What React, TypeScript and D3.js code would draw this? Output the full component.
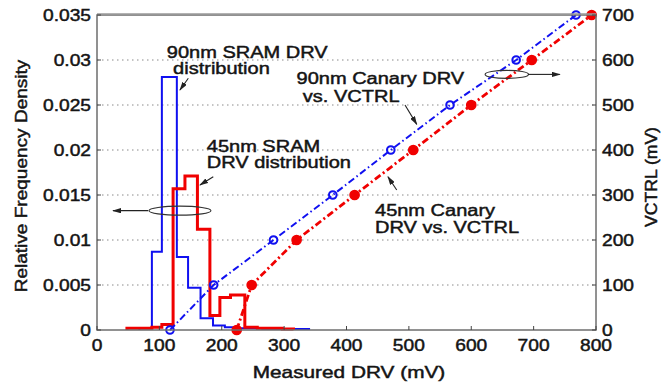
import React from 'react';
import * as d3 from 'd3';

// histogram of measured DRV (relative frequency density), bin edges in mV
const edges90 = [68, 88, 104, 128, 146, 166, 186, 205, 225, 245, 265, 285, 305, 325, 340];
const density90 = [0.0002, 0.0087, 0.0281, 0.0081, 0.0047, 0.0013, 0.0005, 0.0003, 0.0002, 0.0002, 0.0001, 0.0001, 0.0001, 0.0001];

const edges45 = [48, 68, 88, 104, 122, 141, 161, 181, 197, 214, 237, 257, 277, 297, 315];
const density45 = [0.0002, 0.0002, 0.0003, 0.0006, 0.0157, 0.0171, 0.0112, 0.0016, 0.0036, 0.0039, 0.0003, 0.0002, 0.0002, 0.0001];

// canary DRV vs VCTRL
const vctrl = [0, 100, 200, 300, 400, 500, 600, 700];
const canary90 = [117, 187, 283, 378, 471, 566, 672, 768];
const canary45 = [224, 248, 320, 413, 507, 600, 697, 793];

const xTicks = [0, 100, 200, 300, 400, 500, 600, 700, 800];
const leftTicks = [0, 0.005, 0.01, 0.015, 0.02, 0.025, 0.03, 0.035];
const leftLabels = ['0', '0.005', '0.01', '0.015', '0.02', '0.025', '0.03', '0.035'];
const rightTicks = [0, 100, 200, 300, 400, 500, 600, 700];

const W = 662, H = 385;
const left = 97, right = 596, top = 15, bottom = 330;

const BLUE = '#1010f0';
const RED = '#f00000';
const FONT = '"Liberation Sans", Arial, sans-serif';

const T = ({ x, y, children, anchor = 'start', rot = 0, sx = 1.25, size = 16 }: any) => (
  <text
    transform={`translate(${x},${y}) rotate(${rot}) scale(${sx},1)`}
    textAnchor={anchor}
    fontSize={size}
    fontFamily={FONT}
    fill="#141414"
    stroke="#141414"
    strokeWidth={0.45}
  >
    {children}
  </text>
);

export default function App() {
  const x = d3.scaleLinear().domain([0, 800]).range([left, right]);
  const yL = d3.scaleLinear().domain([0, 0.035]).range([bottom, top]);
  const yR = d3.scaleLinear().domain([0, 700]).range([bottom, top]);

  // step outline for a histogram
  const stepPath = (edges: number[], vals: number[]) => {
    const pts: [number, number][] = [[edges[0], 0]];
    vals.forEach((v, i) => pts.push([edges[i], v]));
    pts.push([edges[edges.length - 1], vals[vals.length - 1]]);
    pts.push([edges[edges.length - 1], 0]);
    return d3.line<[number, number]>()
      .x(d => x(d[0]))
      .y(d => yL(d[1]))
      .curve(d3.curveStepAfter)(pts) as string;
  };

  const canaryLine = (xs: number[]) =>
    d3.line<number>()
      .x(d => x(d))
      .y((_, i) => yR(vctrl[i]))(xs) as string;

  // leader arrow in data coords (left or right axis)
  const arrow = (x1: number, y1: number, x2: number, y2: number, ys: any) => (
    <line x1={x(x1)} y1={ys(y1)} x2={x(x2)} y2={ys(y2)} stroke="#222" strokeWidth={1.1} markerEnd="url(#ah)" />
  );

  return (
    <svg width={W} height={H} style={{ position: 'absolute', left: 0, top: 0, background: '#fff' }}>
      <defs>
        <marker id="ah" viewBox="0 0 10 6" refX={9} refY={3} markerWidth={9} markerHeight={5.4} orient="auto" markerUnits="userSpaceOnUse">
          <path d="M0,0 L10,3 L0,6 z" fill="#222" />
        </marker>
      </defs>
      <rect width={W} height={H} fill="#fff" />

      {/* grid */}
      {leftTicks.slice(1, -1).map(t => (
        <line key={t} x1={left} x2={right} y1={yL(t)} y2={yL(t)} stroke="#8a8a8a" strokeWidth={1} strokeDasharray="1.5,3.5" />
      ))}

      {/* histograms */}
      <path d={stepPath(edges90, density90)} fill="none" stroke={BLUE} strokeWidth={2} />
      <path d={stepPath(edges45, density45)} fill="none" stroke={RED} strokeWidth={3} />

      {/* canary lines */}
      <path d={canaryLine(canary90)} fill="none" stroke={BLUE} strokeWidth={2} strokeDasharray="7,3,1.5,3" />
      <path d={canaryLine(canary45)} fill="none" stroke={RED} strokeWidth={2.8} strokeDasharray="7,3,2,3" />
      {canary90.map((d, i) => (
        <circle key={'b' + i} cx={x(d)} cy={yR(vctrl[i])} r={3.8} fill="none" stroke={BLUE} strokeWidth={2} />
      ))}
      {canary45.map((d, i) => (
        <circle key={'r' + i} cx={x(d)} cy={yR(vctrl[i])} r={4.6} fill={RED} stroke={RED} strokeWidth={1.5} />
      ))}

      {/* frame */}
      <rect x={left} y={top} width={right - left} height={bottom - top} fill="none" stroke="#6e6e6e" strokeWidth={1.5} />
      <line x1={left} x2={right} y1={top - 1} y2={top - 1} stroke="#9a9a9a" strokeWidth={1.5} />

      {/* ticks */}
      {xTicks.map(t => (
        <g key={'x' + t}>
          <line x1={x(t)} x2={x(t)} y1={bottom} y2={bottom - 4} stroke="#444" />
          <T x={x(t)} y={351} anchor="middle" sx={1.2}>{t}</T>
        </g>
      ))}
      {leftTicks.map((t, i) => (
        <g key={'l' + t}>
          <line x1={left} x2={left + 4} y1={yL(t)} y2={yL(t)} stroke="#444" />
          <T x={91} y={yL(t) + 6} anchor="end" sx={1.2}>{leftLabels[i]}</T>
        </g>
      ))}
      {rightTicks.map(t => (
        <g key={'r' + t}>
          <line x1={right} x2={right - 4} y1={yR(t)} y2={yR(t)} stroke="#444" />
          <T x={602} y={yR(t) + 6} sx={1.2}>{t}</T>
        </g>
      ))}

      {/* axis titles */}
      <T x={349} y={378} anchor="middle" sx={1.3}>Measured DRV (mV)</T>
      <T x={27} y={176} anchor="middle" rot={-90} sx={1.19}>Relative Frequency Density</T>
      <T x={657} y={177} anchor="middle" rot={-90} sx={1.1}>VCTRL (mV)</T>

      {/* annotations */}
      <T x={x(112)} y={yL(0.0302)}>90nm SRAM DRV</T>
      <T x={x(122)} y={yL(0.02844)}>distribution</T>
      {arrow(146.4, 0.02797, 133, 0.02667, yL)}

      <T x={x(176)} y={yL(0.0198)}>45nm SRAM</T>
      <T x={x(176)} y={yL(0.018)}>DRV distribution</T>
      {arrow(186.4, 0.01703, 165.1, 0.01611, yL)}

      <ellipse cx={x(133)} cy={yL(0.01326)} rx={31} ry={4.5} fill="none" stroke="#333" strokeWidth={1.1} />
      {arrow(82, 0.01326, 25.7, 0.01326, yL)}

      <T x={x(320)} y={yR(546)}>90nm Canary DRV</T>
      <T x={x(330)} y={yR(507)}>vs. VCTRL</T>
      {arrow(493.8, 500, 512.6, 457, yR)}

      <T x={x(445.7)} y={yR(253)}>45nm Canary</T>
      <T x={x(445.7)} y={yR(216)}>DRV vs. VCTRL</T>
      {arrow(480.5, 311, 466.5, 340.7, yR)}

      <ellipse cx={x(657)} cy={yR(568)} rx={21.7} ry={4} fill="none" stroke="#333" strokeWidth={1.1} />
      {arrow(691, 568, 742, 568, yR)}
    </svg>
  );
}
